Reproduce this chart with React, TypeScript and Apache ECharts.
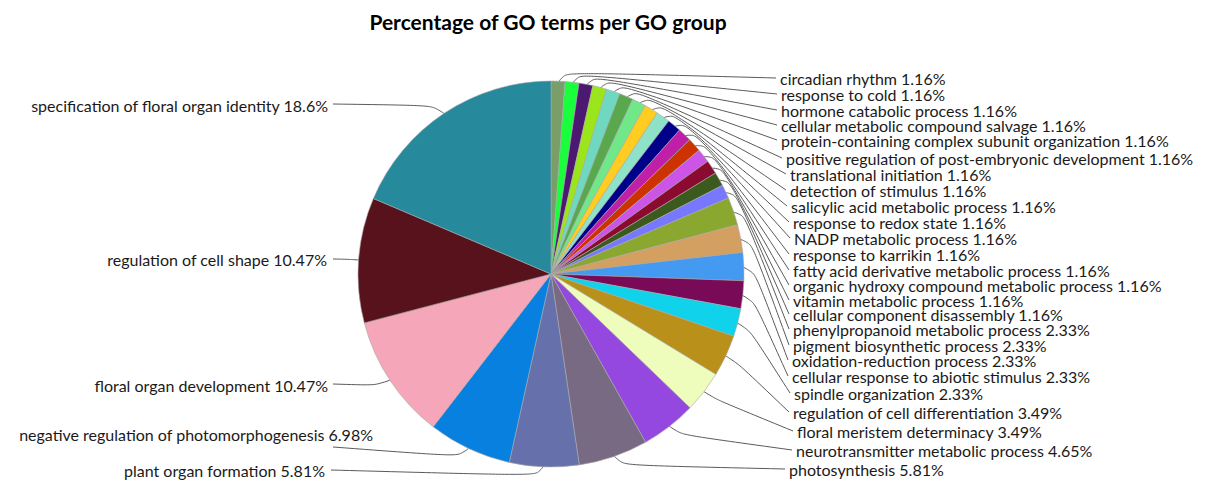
import React, { useEffect, useRef } from 'react';
import * as echarts from 'echarts';

const categories = [
  'circadian rhythm',
  'response to cold',
  'hormone catabolic process',
  'cellular metabolic compound salvage',
  'protein-containing complex subunit organization',
  'positive regulation of post-embryonic development',
  'translational initiation',
  'detection of stimulus',
  'salicylic acid metabolic process',
  'response to redox state',
  'NADP metabolic process',
  'response to karrikin',
  'fatty acid derivative metabolic process',
  'organic hydroxy compound metabolic process',
  'vitamin metabolic process',
  'cellular component disassembly',
  'phenylpropanoid metabolic process',
  'pigment biosynthetic process',
  'oxidation-reduction process',
  'cellular response to abiotic stimulus',
  'spindle organization',
  'regulation of cell differentiation',
  'floral meristem determinacy',
  'neurotransmitter metabolic process',
  'photosynthesis',
  'plant organ formation',
  'negative regulation of photomorphogenesis',
  'floral organ development',
  'regulation of cell shape',
  'specification of floral organ identity',
];

const values = [
  1.16, 1.16, 1.16, 1.16, 1.16, 1.16, 1.16, 1.16, 1.16, 1.16, 1.16, 1.16, 1.16, 1.16, 1.16, 1.16,
  2.33, 2.33, 2.33, 2.33, 2.33,
  3.49, 3.49, 4.65, 5.81, 5.81, 6.98, 10.47, 10.47, 18.6,
];

const colors = [
  '#7a9e6a', '#1aff3c', '#4b1a70', '#9be61a', '#6fd8c0', '#5aa84e', '#70e88a', '#ffcc22',
  '#8ee2c8', '#000088', '#c020a8', '#cc3300', '#cc55e8', '#8a0a30', '#3c5a1e', '#7878ff',
  '#8aa830', '#d4a062', '#4499f0', '#780a58', '#10d2ea', '#b8901a', '#eefdbb', '#9548e0',
  '#786a82', '#6670aa', '#0880e0', '#f5a6b8', '#58121c', '#268a9c',
];

const titleText = 'Percentage of GO terms per GO group';

// label layout (positions only)
const rightLabelX = [780, 781, 781, 781, 781, 786, 790, 790, 791, 793, 794, 793, 793, 793, 793, 793, 793, 793, 792, 792, 794, 793, 797, 796, 789];
const rightLabelY = [78, 94, 110, 125, 140, 158, 174, 190, 206, 222, 238, 254, 270, 285, 300, 314, 329, 345, 360, 376, 393, 412, 431, 450, 469];
const leftLabelRight = [325, 373, 328, 327, 328];
const leftLabelY = [470, 434, 385, 259, 105];
const leftLineEnd = [[331, 470], [333, 447], [333, 384], [333, 259], [333, 104]];

const CX = 551;
const CY = 274;
const R = 193;

export default function App() {
  const ref = useRef<HTMLDivElement>(null);
  useEffect(() => {
    document.body.style.margin = '0';
    if (!ref.current) return;
    const chart = echarts.init(ref.current, undefined, { renderer: 'svg' });
    const total = values.reduce((a, b) => a + b, 0);
    const mids: number[] = [];
    let acc = 0;
    values.forEach((v) => {
      mids.push(((acc + v / 2) / total) * Math.PI * 2);
      acc += v;
    });
    const pt = (a: number, r: number) => [CX + r * Math.sin(a), CY - r * Math.cos(a)];
    const nRight = rightLabelX.length;

    chart.setOption({
      animation: false,
      backgroundColor: '#ffffff',
      title: {
        text: titleText,
        left: 543,
        top: 6,
        textAlign: 'center',
        textStyle: { fontFamily: 'Lato', fontWeight: 'bold', fontSize: 21, color: '#000' },
      },
      series: [
        {
          type: 'pie',
          center: [CX, CY],
          radius: R,
          startAngle: 90,
          clockwise: true,
          avoidLabelOverlap: false,
          itemStyle: { borderColor: '#a8a8a8', borderWidth: 0.6 },
          data: categories.map((name, i) => ({
            name,
            value: values[i],
            itemStyle: { color: colors[i] },
          })),
          label: {
            show: true,
            position: 'outside',
            formatter: (p: any) => `${p.name} ${p.value}%`,
            fontFamily: 'Lato',
            fontSize: 16,
            lineHeight: 14,
            color: '#1a1a1a',
          },
          labelLine: {
            show: true,
            smooth: 0.35,
            lineStyle: { color: '#5a5a5a', width: 1 },
          },
          labelLayout: (params: any) => {
            const i = params.dataIndex;
            const a = mids[i];
            const p0 = pt(a, 175);
            const p1 = pt(a, R + 9);
            if (i < nRight) {
              const x = rightLabelX[i];
              const y = rightLabelY[i];
              return {
                x,
                y,
                align: 'left',
                verticalAlign: 'middle',
                labelLinePoints: [p0, p1, [x - 4, y]],
              };
            }
            const j = i - nRight;
            return {
              x: leftLabelRight[j],
              y: leftLabelY[j],
              align: 'right',
              verticalAlign: 'middle',
              labelLinePoints: [p0, p1, leftLineEnd[j]],
            };
          },
        },
      ],
    });
    return () => chart.dispose();
  }, []);
  return <div ref={ref} style={{ width: 1208, height: 481 }} />;
}
